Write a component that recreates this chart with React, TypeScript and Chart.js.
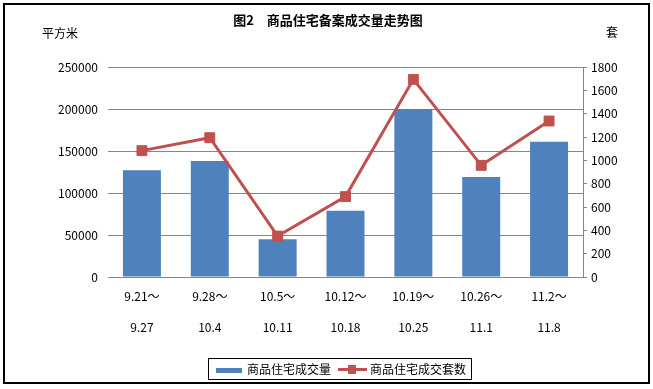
import React, { useEffect, useRef } from "react";
import { Chart, registerables } from "chart.js";

Chart.register(...registerables);

const categories: string[][] = [
  ["9.21～", "9.27"],
  ["9.28～", "10.4"],
  ["10.5～", "10.11"],
  ["10.12～", "10.18"],
  ["10.19～", "10.25"],
  ["10.26～", "11.1"],
  ["11.2～", "11.8"],
];
const areaValues = [127000, 138000, 45000, 79000, 200000, 119000, 161000];
const unitValues = [1083, 1194, 351, 689, 1694, 957, 1337];
const areaLabel = "商品住宅成交量";
const unitLabel = "商品住宅成交套数";
const titleText = "图2　商品住宅备案成交量走势图";
const leftUnit = "平方米";
const rightUnit = "套";
const leftMax = 250000;
const leftStep = 50000;
const rightMax = 1800;
const rightStep = 200;

const BLUE = "#4F81BD";
const RED = "#C0504D";
const GRID = "#868686";
const FONT = "'Noto Sans CJK SC', 'Liberation Sans', sans-serif";

export default function App() {
  const ref = useRef<HTMLCanvasElement | null>(null);

  useEffect(() => {
    if (!ref.current) return;
    const chart = new Chart(ref.current, {
      data: {
        labels: categories,
        datasets: [
          {
            type: "line",
            label: unitLabel,
            data: unitValues,
            yAxisID: "y1",
            borderColor: RED,
            backgroundColor: RED,
            borderWidth: 3,
            pointStyle: "rect",
            pointRadius: 7,
            pointBorderWidth: 1,
            pointBorderColor: RED,
            pointBackgroundColor: RED,
            order: 0,
          } as any,
          {
            type: "bar",
            label: areaLabel,
            data: areaValues,
            yAxisID: "y",
            backgroundColor: BLUE,
            barPercentage: 0.56,
            categoryPercentage: 1,
            order: 1,
          } as any,
        ],
      },
      options: {
        responsive: false,
        animation: false,
        layout: { padding: { left: 0, right: 0, top: 67, bottom: 42 } },
        plugins: {
          legend: { display: false },
          title: { display: false },
          tooltip: { enabled: false },
        },
        scales: {
          x: {
            grid: { display: false, drawTicks: false },
            border: { display: true, color: GRID, width: 1 },
            ticks: {
              padding: 4,
              color: "#000",
              maxRotation: 0,
              autoSkip: false,
              font: { family: FONT, size: 12, lineHeight: 31 / 12 },
            },
            afterFit: (s: any) => {
              s.height = 70;
            },
          },
          y: {
            position: "left",
            min: 0,
            max: leftMax,
            ticks: {
              stepSize: leftStep,
              padding: 10,
              color: "#000",
              font: { family: FONT, size: 12 },
              callback: (v: any) => String(v),
            },
            grid: { color: GRID, drawTicks: false, lineWidth: 1 },
            border: { display: false },
            afterFit: (s: any) => {
              s.width = 108;
            },
          },
          y1: {
            position: "right",
            min: 0,
            max: rightMax,
            ticks: {
              stepSize: rightStep,
              padding: 4,
              color: "#000",
              font: { family: FONT, size: 12 },
              callback: (v: any) => String(v),
            },
            grid: { drawOnChartArea: false, color: GRID, tickLength: 4 },
            border: { display: true, color: GRID },
            afterFit: (s: any) => {
              s.width = 70;
            },
          },
        },
      } as any,
    });
    return () => chart.destroy();
  }, []);

  const txt: React.CSSProperties = {
    position: "absolute",
    fontFamily: FONT,
    fontSize: 12,
    color: "#000",
    whiteSpace: "nowrap",
    lineHeight: "14px",
  };

  return (
    <div
      style={{
        position: "absolute",
        left: 0,
        top: 0,
        width: 653,
        height: 389,
        background: "#fff",
        overflow: "hidden",
      }}
    >
      <canvas
        ref={ref}
        width={653}
        height={389}
        style={{ position: "absolute", left: 0, top: 0, width: 653, height: 389 }}
      />
      <div
        style={{
          position: "absolute",
          left: 3,
          top: 3,
          width: 647,
          height: 381,
          boxSizing: "border-box",
          border: "2px solid #000",
          pointerEvents: "none",
        }}
      />
      <div
        style={{
          ...txt,
          left: 0,
          width: 656,
          top: 13,
          textAlign: "center",
          fontWeight: "bold",
          fontSize: 13,
        }}
      >
        {titleText}
      </div>
      <div style={{ ...txt, left: 42, top: 26 }}>{leftUnit}</div>
      <div style={{ ...txt, left: 606, top: 25 }}>{rightUnit}</div>
      <div
        style={{
          position: "absolute",
          left: 208,
          top: 358,
          width: 264,
          height: 22,
          boxSizing: "border-box",
          border: "1px solid #000",
          background: "#fff",
        }}
      >
        <div style={{ position: "absolute", left: 7, top: 9, width: 26, height: 5, background: BLUE }} />
        <div style={{ ...txt, left: 38, top: 3 }}>{areaLabel}</div>
        <div style={{ position: "absolute", left: 129, top: 9, width: 29, height: 3, background: RED }} />
        <div style={{ position: "absolute", left: 139, top: 6, width: 8, height: 9, background: RED }} />
        <div style={{ ...txt, left: 161, top: 3 }}>{unitLabel}</div>
      </div>
    </div>
  );
}
